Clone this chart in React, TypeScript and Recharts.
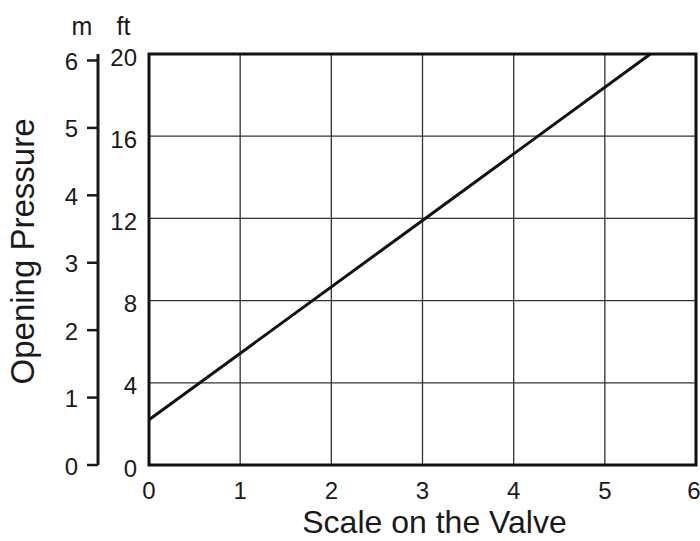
import { LineChart, Line, XAxis, YAxis, CartesianGrid, ReferenceArea } from "recharts"

const FONT = '"Liberation Sans", Arial, Helvetica, sans-serif'
const INK = "#1a1a1a"

// valve scale setting vs opening pressure (ft of water)
const valveScale = [0, 3, 5.5]
const pressureFt = [2.2, 11.9, 20]

const X_TICKS = [0, 1, 2, 3, 4, 5, 6]
const FT_TICKS = [0, 4, 8, 12, 16, 20]
const M_TICKS = [0, 1, 2, 3, 4, 5, 6]
const M_PER_FT = 0.3048

const data = valveScale.map((x, i) => ({ x, ft: pressureFt[i] }))

const ftMax = FT_TICKS[FT_TICKS.length - 1]
const xMax = X_TICKS[X_TICKS.length - 1]

function XTitle(props: any) {
  const vb = props.viewBox
  return (
    <text x={vb.x + vb.width / 2 + 12} y={vb.y + 68} textAnchor="middle" fontSize={32} fontFamily={FONT} fill={INK}>
      Scale on the Valve
    </text>
  )
}

function MAxisTitles(props: any) {
  const vb = props.viewBox
  const right = vb.x + vb.width
  const cx = vb.x - 4
  const cy = vb.y + vb.height / 2 - 8
  return (
    <g>
      <text x={right - 16} y={vb.y - 19} textAnchor="middle" fontSize={25} fontFamily={FONT} fill={INK}>
        m
      </text>
      <text
        x={cx}
        y={cy}
        transform={`rotate(-90 ${cx} ${cy})`}
        textAnchor="middle"
        fontSize={33}
        fontFamily={FONT}
        fill={INK}
      >
        Opening Pressure
      </text>
    </g>
  )
}

function FtHeader(props: any) {
  const vb = props.viewBox
  return (
    <text x={vb.x + vb.width / 2} y={vb.y - 19} textAnchor="middle" fontSize={25} fontFamily={FONT} fill={INK}>
      ft
    </text>
  )
}

export default function App() {
  return (
    <div style={{ position: "absolute", left: 0, top: 0, background: "#fff" }}>
      <LineChart width={700} height={541} data={data} margin={{ top: 54, right: 4, left: 38, bottom: 0 }}>
        <CartesianGrid yAxisId="ft" stroke="#333" strokeWidth={1.3} />
        <XAxis
          dataKey="x"
          type="number"
          domain={[0, xMax]}
          ticks={X_TICKS}
          axisLine={false}
          tickLine={false}
          tickSize={6}
          tickMargin={11}
          height={76}
          tick={{ fill: INK, fontSize: 24, fontFamily: FONT }}
          label={XTitle}
        />
        <YAxis
          yAxisId="ft"
          type="number"
          domain={[0, ftMax]}
          ticks={FT_TICKS}
          axisLine={false}
          tickLine={false}
          tickSize={6}
          tickMargin={6}
          width={51}
          tick={{ fill: INK, fontSize: 24, fontFamily: FONT, dy: 3 }}
          label={FtHeader}
        />
        <YAxis
          yAxisId="m"
          type="number"
          domain={[0, ftMax * M_PER_FT]}
          allowDataOverflow
          ticks={M_TICKS}
          axisLine={{ stroke: INK, strokeWidth: 3 }}
          tickLine={{ stroke: INK, strokeWidth: 2.5 }}
          tickSize={11}
          tickMargin={9}
          width={60}
          tick={{ fill: INK, fontSize: 24, fontFamily: FONT, dy: 1 }}
          label={MAxisTitles}
        />
        <ReferenceArea
          yAxisId="ft"
          x1={0}
          x2={xMax}
          y1={0}
          y2={ftMax}
          fill="none"
          fillOpacity={0}
          stroke="#111"
          strokeWidth={3}
          ifOverflow="visible"
        />
        <Line
          yAxisId="ft"
          type="linear"
          dataKey="ft"
          stroke="#111"
          strokeWidth={3}
          dot={false}
          isAnimationActive={false}
        />
      </LineChart>
    </div>
  )
}
